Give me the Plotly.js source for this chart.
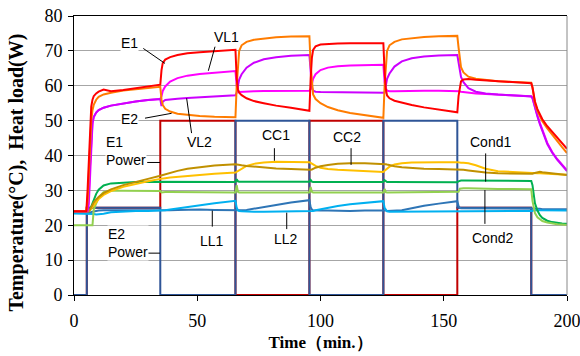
<!DOCTYPE html>
<html><head><meta charset="utf-8">
<script src="https://cdn.plot.ly/plotly-3.0.1.min.js"></script>
<style>html,body{margin:0;padding:0;background:#fff}#chart{width:580px;height:356px}</style>
</head><body><div id="chart"></div>
<script>
// ---- data ----
const time = [0,5,5.5,6,6.5,7,7.5,8,9,10,12,15,20,25,30,35,
  35.5,36,37,39,42,46,51,57,65.5,
  66,66.5,67,68,70,73,77,82,88,95.5,
  96,96.5,97,98,100,103,107,112,118,125.5,
  126,126.5,127,128,130,133,137,142,148,155.5,
  156,156.5,157,158,160,163,167,172,178,185.5,
  186,186.5,187,188,189,190,192,194,196,198,200];

const E1 = [24,24,30,40,49,54,56,57,57.8,58.3,58.9,58.4,58.8,59.3,59.8,60.3,
  64.5,66.5,67.5,68.2,68.8,69.3,69.6,69.9,70.3,
  62,59,58,57.3,56.4,55.6,55,54.3,53.7,52.8,
  62,68,70.3,71.3,71.8,72,72.1,72.2,72.2,72.2,
  64,59,57.2,56.4,55.7,55.1,54.5,53.8,53.1,52.4,
  57,60,61.3,61.8,61.9,61.7,61.5,61.2,61,60.7,
  59.5,57.5,55.5,53.3,51.7,50.4,48.4,46.7,45.1,43.5,41.9];

const E2 = [24,24,27,35,44,50,53,54.5,56,56.8,57.5,58,58.6,59,59.4,59.7,
  56,54.5,53.4,52.6,52,51.6,51.3,51.1,51,
  60,67,70,71.6,72.6,73.2,73.6,73.9,74.1,74.2,
  66,60,57.5,56.2,55,53.9,53,52.2,51.5,50.8,
  60,67,70,71.6,72.6,73.3,73.7,74,74.2,74.3,
  71,67,65.3,63.8,62.6,62,61.6,61.3,61.1,60.9,
  59.5,57,55,52.8,51.1,49.8,47.8,45.9,44.1,42.4,40.7];

const VL1 = [24,24,24,26,35,45,49,51,52.3,53,53.7,54.3,55,55.5,55.9,56.2,
  57,58.5,59.8,61.2,62.2,62.9,63.4,63.8,64.2,
  60,58.6,58.2,58.2,58.3,58.4,58.5,58.5,58.6,58.6,
  59,60.5,62,63.3,64.5,65.2,65.6,65.8,65.9,66,
  61,59.2,58.6,58.4,58.4,58.5,58.5,58.6,58.6,58.6,
  58.5,58.4,58.3,58.2,58,57.8,57.6,57.4,57.2,57,
  56.6,55.2,53.8,51.5,49.3,47.2,43.6,41,39,37.4,35.8];

const VL2 = [24,24,24.5,28,37,46,49.5,51,52.3,53,53.7,54.3,55,55.5,55.9,56.2,
  54.2,55.4,55.9,56.1,56.3,56.5,56.7,57,57.3,
  58,60,61.8,63.3,65.2,66.6,67.6,68.2,68.6,68.8,
  63,59.6,58.6,58.3,58.2,58.2,58.2,58.2,58.1,58,
  58,60,62,63.5,65.5,67,67.9,68.4,68.7,68.8,
  66.5,64,62.5,61,59.3,58.3,57.8,57.5,57.2,56.9,
  56.4,55,53.5,51.2,49,46.9,43.3,40.8,38.8,37.2,35.5];

const CC1 = [24,24,24,24,24.3,24.8,25.3,25.8,26.8,27.5,28.7,29.8,31,31.9,32.6,33.3,
  33.4,33.4,33.5,33.7,33.9,34.2,34.5,34.8,35.1,
  35.3,35.6,35.8,36.3,37,37.6,38,38.2,38.2,38.1,
  37.9,37.7,37.5,37,36.5,36.1,35.9,35.7,35.5,35.3,
  35.6,35.9,36.2,36.8,37.4,37.8,38,38.1,38.1,38.1,
  38,38,37.9,37.9,37.8,37.2,36.2,35.5,35.2,35,
  34.9,34.9,34.9,34.9,34.9,34.9,34.8,34.7,34.6,34.5,34.5];

const CC2 = [24,24,24,24,24.5,25.3,25.9,26.5,27.4,28.1,29.2,30.3,31.5,32.5,33.3,34.2,
  34.3,34.4,34.7,35.1,35.6,36.2,36.7,37.1,37.5,
  37.4,37.3,37.3,37.2,37,36.8,36.6,36.3,36.1,35.8,
  35.9,36,36.2,36.5,36.9,37.3,37.6,37.8,37.8,37.7,
  37.6,37.5,37.4,37.2,36.9,36.6,36.4,36.2,36.1,36,
  36,36,35.9,35.9,35.7,35.4,35.1,34.9,34.8,34.8,
  34.8,34.9,35,35.2,35.3,35.2,35,34.8,34.6,34.5,34.4];

const Cond1 = [24,24,24,24,24.5,25.5,26.5,27.5,29,30.2,31.4,32,32.3,32.4,32.5,32.5,
  32.5,32.4,32.4,32.4,32.4,32.4,32.4,32.4,32.4,
  33.2,32.6,32.5,32.5,32.5,32.5,32.5,32.5,32.5,32.5,
  33,32.5,32.4,32.4,32.4,32.4,32.4,32.4,32.4,32.4,
  32.9,32.5,32.4,32.4,32.4,32.4,32.4,32.4,32.4,32.3,
  32.6,32.8,32.8,32.8,32.8,32.8,32.8,32.8,32.8,32.7,
  31.5,28.5,26.3,24.2,22.9,22.1,21.3,20.9,20.6,20.5,20.4];

const Cond2 = [20,20,20,20,20,20,20,24.5,26.5,28,29.5,29.9,29.9,29.8,29.8,29.8,
  29.4,29.5,29.5,29.5,29.5,29.5,29.5,29.5,29.4,
  31.5,29.6,29.4,29.4,29.4,29.4,29.4,29.4,29.4,29.4,
  31,29.6,29.4,29.4,29.4,29.4,29.4,29.4,29.4,29.4,
  30.4,29.5,29.4,29.4,29.4,29.4,29.4,29.4,29.4,29.4,
  29.6,30.5,30.6,30.6,30.6,30.5,30.5,30.4,30.4,30.3,
  27,24.8,23.5,22.3,21.6,21.2,20.8,20.5,20.3,20.2,20.1];

const LL1 = [23.6,23.6,23.6,23.7,23.7,23.8,23.9,24,24.1,24.2,24.3,24.3,24.1,24.2,24.3,24.3,
  24.3,24.3,24.3,24.3,24.4,24.5,24.5,24.4,24.3,
  24.2,24.2,24.2,24.3,24.4,24.7,25.2,25.8,26.5,27.2,
  25.2,24.5,24.3,24.2,24.2,24.2,24.1,24.1,24.2,24.3,
  24.3,24.2,24.1,24.1,24.1,24.3,24.9,25.6,26.2,26.9,
  25.5,25,24.9,24.9,24.9,24.9,24.9,24.9,24.9,24.9,
  24.8,24.8,24.7,24.7,24.7,24.6,24.6,24.6,24.6,24.6,24.6];

const LL2 = [23.4,23.4,23.4,23.4,23.3,23.3,23.2,23.2,23.1,23.1,23.3,23.7,24,24.1,24.1,24.1,
  24.1,24.2,24.3,24.5,24.8,25.3,25.8,26.3,27,
  25,24.3,24.1,24,23.9,23.9,23.9,23.9,24,24,
  24,24,24.1,24.3,24.6,25,25.5,26,26.4,26.9,
  25,24.3,24,23.9,23.9,23.9,23.9,23.9,23.9,23.9,
  23.9,23.9,23.9,23.9,23.9,23.9,23.9,23.9,23.9,23.9,
  24.1,24.3,24.4,24.4,24.3,24.3,24.3,24.2,24.2,24.2,24.2];

// heat load steps
const powerTime = [0,5.2,35,65.5,95.5,125.5,155.5,185.5,200];
const E1Power   = [0,25,50,0,50,0,25,0,0];
const E2Power   = [0,25,0,50,0,50,25,0,0];

const xTicks = [0,50,100,150,200];
const yTicks = [0,10,20,30,40,50,60,70,80];

const xTitle = 'Time（min.）';
const yTitle = 'Temperature(°C),\u00a0 Heat load(W)';

// label texts with their positions (data units) and leader lines
const labels = [
  {text:'E1', x:22.7, y:72.2, lx:[28.1,36.9], ly:[70.7,66.4]},
  {text:'VL1', x:61.9, y:74.1, lx:[57.2,54.5], ly:[71.2,64.3]},
  {text:'E2', x:22.4, y:50.4, lx:[28.8,39.6], ly:[50.7,52.1]},
  {text:'VL2', x:51.1, y:44.0, lx:[45.7,47.7], ly:[56.4,46.4]},
  {text:'E1<br>Power', x:12.6, y:41.3, align:'left', lx:[29.7,34.9], ly:[38.0,38.0]},
  {text:'E2<br>Power', x:13.3, y:14.8, align:'left', lx:[29.7,34.9], ly:[12.0,12.0]},
  {text:'CC1', x:81.9, y:45.9, lx:[81.3,81.3], ly:[42.1,38.5]},
  {text:'CC2', x:110.6, y:45.4, lx:[112.4,112.4], ly:[42.1,37.3]},
  {text:'LL1', x:56.1, y:15.6, lx:[56.1,56.1], ly:[24.2,19.6]},
  {text:'LL2', x:85.9, y:16.0, lx:[86.3,86.3], ly:[23.6,18.9]},
  {text:'Cond1', x:168.8, y:44.0, lx:[167.0,167.0], ly:[40.6,32.5]},
  {text:'Cond2', x:169.9, y:16.3, lx:[166.7,166.7], ly:[30.1,20.4]}
];

// ---- drawing ----
const serif = '"Times New Roman", "Liberation Serif", serif';
const sans = 'Arial, "Liberation Sans", sans-serif';

function tr(y, color, name, shape){
  return {x: shape ? powerTime : time, y: y, name: name, type:'scatter', mode:'lines',
    line:{color: color, width: 2, shape: shape || 'linear'}, hoverinfo:'skip'};
}
const traces = [
  tr(E1Power, '#c00000', 'E1 Power', 'hv'),
  tr(E2Power, '#2f5597', 'E2 Power', 'hv'),
  tr(LL1, '#2e75b6', 'LL1'),
  tr(LL2, '#00b0f0', 'LL2'),
  tr(Cond1, '#00b050', 'Cond1'),
  tr(Cond2, '#92d050', 'Cond2'),
  tr(CC1, '#ffc000', 'CC1'),
  tr(CC2, '#c09000', 'CC2'),
  tr(VL1, '#ff00ff', 'VL1'),
  tr(VL2, '#cc00ff', 'VL2'),
  tr(E2, '#ff7c00', 'E2'),
  tr(E1, '#ff0000', 'E1')
];

const shapes = labels.map(l => ({type:'line', xref:'x', yref:'y',
  x0:l.lx[0], x1:l.lx[1], y0:l.ly[0], y1:l.ly[1], line:{color:'#000', width:1}}));
shapes.push({type:'line', xref:'paper', yref:'paper', x0:1, x1:1, y0:0, y1:1,
  line:{color:'#888', width:1}});

const annotations = labels.map(l => ({text:l.text, x:l.x, y:l.y, xref:'x', yref:'y',
  showarrow:false, xanchor: l.align ? 'left' : 'center', yanchor:'middle', align: l.align || 'center',
  bgcolor:'#ffffff', font:{family:sans, size:14, color:'#000'}, borderpad:0}));
// y-axis title (placed like the original, slightly below the plot centre)
annotations.push({text:'<b>' + yTitle + '</b>', textangle:-90, xref:'paper', yref:'paper',
  x:0, y:0.439, xanchor:'center', yanchor:'middle', xshift:-57, showarrow:false,
  font:{family:serif, size:20, color:'#000'}});

const layout = {
  width:580, height:356,
  margin:{l:74, r:13, t:16, b:61},
  paper_bgcolor:'#fff', plot_bgcolor:'#fff',
  showlegend:false,
  xaxis:{range:[0,200], tickvals:xTicks, ticktext:xTicks.map(String),
    ticks:'outside', ticklen:5, tickcolor:'#000', showline:true, linecolor:'#000', linewidth:1,
    mirror:true, showgrid:false, zeroline:false, ticklabeloverflow:'allow', ticklabelstandoff:4,
    tickfont:{family:serif, size:18, color:'#000'},
    title:{text:'<b>' + xTitle + '</b>', font:{family:serif, size:17, color:'#000'}, standoff:6}},
  yaxis:{range:[0,80], tickvals:yTicks, ticktext:yTicks.map(String),
    ticks:'outside', ticklen:5, tickcolor:'#000', showline:true, linecolor:'#000', linewidth:1,
    showgrid:true, gridcolor:'#a6a6a6', gridwidth:1, zeroline:false, ticklabelstandoff:2,
    tickfont:{family:serif, size:18, color:'#000'}},
  shapes:shapes,
  annotations:annotations
};

Plotly.newPlot('chart', traces, layout, {staticPlot:true, displayModeBar:false});
</script>
</body></html>
